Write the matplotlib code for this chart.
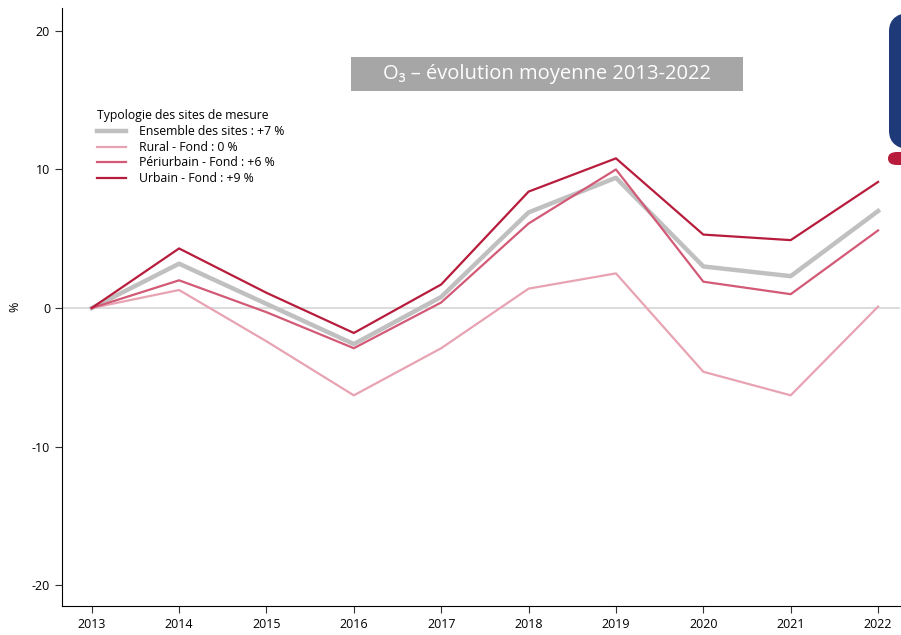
import matplotlib.pyplot as plt
from matplotlib.patches import FancyBboxPatch, Rectangle

plt.rcParams['font.family'] = ['Open Sans', 'DejaVu Sans']
plt.rcParams['axes.unicode_minus'] = False

# Données (évolution en % par rapport à 2013)
annees = [2013, 2014, 2015, 2016, 2017, 2018, 2019, 2020, 2021, 2022]
ensemble = [0, 3.2, 0.3, -2.6, 0.8, 6.9, 9.4, 3.0, 2.3, 7.0]
rural = [0, 1.3, -2.4, -6.3, -2.9, 1.4, 2.5, -4.6, -6.3, 0.1]
periurbain = [0, 2.0, -0.3, -2.9, 0.4, 6.1, 10.0, 1.9, 1.0, 5.6]
urbain = [0, 4.3, 1.1, -1.8, 1.7, 8.4, 10.8, 5.3, 4.9, 9.1]

libelles = ['Ensemble des sites : +7 %', 'Rural - Fond : 0 %',
            'Périurbain - Fond : +6 %', 'Urbain - Fond : +9 %']

fig = plt.figure(figsize=(9.01, 6.35), dpi=100)
ax = fig.add_axes([0.0688, 0.0457, 0.930, 0.9417])

ax.axhline(0, color='#d9d9d9', lw=1.3, zorder=1)
ax.plot(annees, ensemble, color='#c0c0c0', lw=3.2, label=libelles[0], zorder=2)
ax.plot(annees, rural, color='#e8a3b3', lw=1.6, label=libelles[1], zorder=3)
ax.plot(annees, periurbain, color='#d25a76', lw=1.6, label=libelles[2], zorder=4)
ax.plot(annees, urbain, color='#b81c3c', lw=1.6, label=libelles[3], zorder=5)

ax.set_xlim(2012.66, 2022.25)
ax.set_ylim(-21.5, 21.65)
ax.set_xticks(annees)
ax.set_yticks([-20, -10, 0, 10, 20])
ax.tick_params(labelsize=9, length=5, width=0.8, color='#333333')
ax.spines['top'].set_visible(False)
ax.spines['right'].set_visible(False)
ax.set_ylabel('%', fontsize=9)
ax.yaxis.set_label_coords(-0.049, 0.5)

leg = ax.legend(title='Typologie des sites de mesure', loc='upper left',
                bbox_to_anchor=(0.0955, 0.845), bbox_transform=fig.transFigure,
                frameon=False, fontsize=8.8, title_fontsize=8.8,
                handlelength=2.4, handletextpad=1.0, labelspacing=0.22,
                alignment='left')

# Titre dans un bandeau gris
fig.patches.append(Rectangle((351 / 901, 1 - 91 / 635), 392 / 901, 34 / 635,
                             fc='#a6a6a6', ec='none', transform=fig.transFigure))
fig.text(547 / 901, 1 - 74 / 635, 'O₃ – évolution moyenne 2013-2022', color='white',
         fontsize=14.5, ha='center', va='center')

# Décor en haut à droite
fig.patches.append(FancyBboxPatch((889 / 901, 1 - 150 / 635), 0.05, 138 / 635,
                                  boxstyle='round,pad=0,rounding_size=0.03',
                                  fc='#1f3a78', ec='none', transform=fig.transFigure))
fig.patches.append(FancyBboxPatch((888 / 901, 1 - 165 / 635), 0.05, 13 / 635,
                                  boxstyle='round,pad=0,rounding_size=0.01',
                                  fc='#b81c3c', ec='none', transform=fig.transFigure))

fig.savefig('out.png', dpi=100)
